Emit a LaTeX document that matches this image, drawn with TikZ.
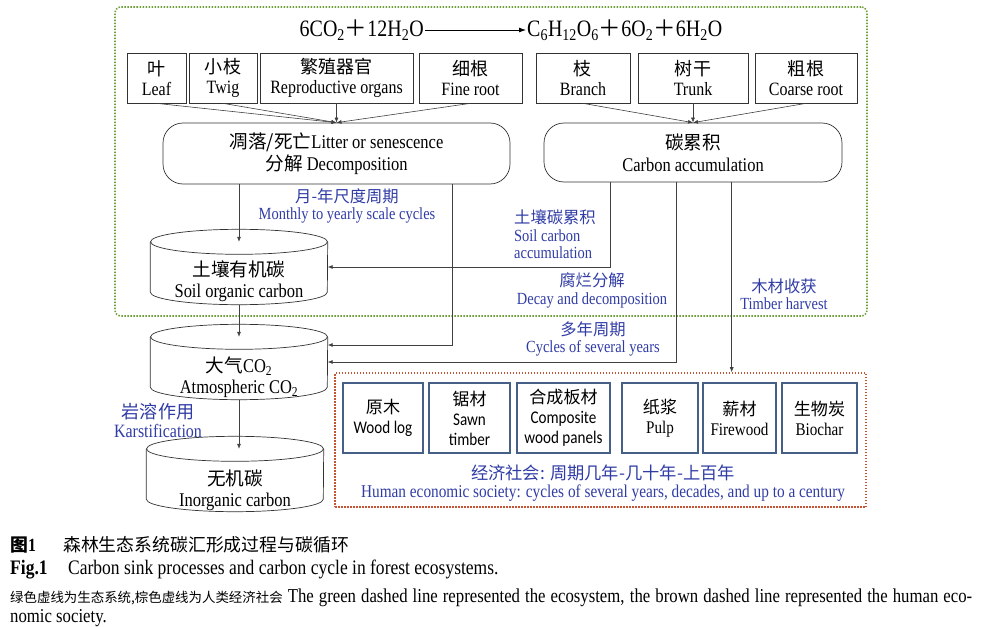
\documentclass[tikz,border=0pt]{standalone}
\usepackage{fontspec}
\setmainfont[FakeStretch=0.85]{Liberation Serif}
\newfontfamily\cjk[Scale=0.96]{Noto Sans CJK SC}
\newfontfamily\calib[FakeStretch=0.85]{Carlito}
\newcommand{\zh}[1]{{\cjk #1}}
\usepackage{xcolor}
\usetikzlibrary{arrows.meta,positioning}
\definecolor{ecogreen}{RGB}{112,160,60}
\definecolor{socbrown}{RGB}{196,84,52}
\definecolor{noteblue}{RGB}{48,60,165}
\definecolor{prodframe}{RGB}{70,95,135}

\begin{document}
\begin{tikzpicture}[x=1pt,y=-1pt,
  part/.style={rectangle, draw=black!80, line width=0.7pt, minimum height=50pt, inner sep=1pt, align=center, font=\fontsize{18.8}{20.5}\selectfont},
  stage/.style={rectangle, draw=black!80, line width=0.7pt, rounded corners=20pt, align=center, font=\fontsize{19.4}{22}\selectfont},
  tank/.style={minimum width=177pt, minimum height=50pt, inner sep=0pt},
  tanktext/.style={align=center, inner sep=0pt, font=\fontsize{19.4}{21.5}\selectfont},
  product/.style={rectangle, draw=prodframe, line width=1.1pt, minimum height=70pt, inner sep=1pt, align=center, font=\fontsize{17.8}{20}\selectfont},
  sansproduct/.style={product, font=\calib\fontsize{17.8}{20}\selectfont},
  note/.style={text=noteblue, align=center, inner sep=0pt, font=\fontsize{17}{17.5}\selectfont},
  zone/.style={line width=1.6pt, dash pattern=on 1.5pt off 1.5pt},
  flow/.style={-{Latex[length=5pt,width=4pt]}, draw=black!75, line width=0.6pt},
  caption/.style={anchor=west, inner sep=0pt}
]
\useasboundingbox (0,0) rectangle (984,626);

% ecosystem / society frames
\node[zone, draw=ecogreen, rounded corners=6pt, minimum width=752pt, minimum height=309pt] (eco) at (491,161.5) {};
\node[zone, draw=socbrown, minimum width=531pt, minimum height=134pt] (society) at (600.5,440) {};

% photosynthesis
\node[anchor=east, inner sep=1pt, font=\fontsize{23.5}{24}\selectfont] (lhs) at (425,30) {6CO\textsubscript{2}\zh{＋}12H\textsubscript{2}O};
\node[anchor=west, inner sep=1pt, font=\fontsize{23.5}{24}\selectfont] (rhs) at (526,30) {C\textsubscript{6}H\textsubscript{12}O\textsubscript{6}\zh{＋}6O\textsubscript{2}\zh{＋}6H\textsubscript{2}O};
\draw[-{Latex[length=7pt,width=5pt]}, line width=0.8pt] (lhs) -- (rhs);

% organs
\node[part, minimum width=59pt] (leaf) at (156.5,78) {\zh{叶}\\Leaf};
\node[part, minimum width=68pt] (twig) at (223,78) {\zh{小枝}\\Twig};
\node[part, minimum width=153pt] (organ) at (336.5,78) {\zh{繁殖器官}\\Reproductive organs};
\node[part, minimum width=103pt] (fine) at (470.5,78) {\zh{细根}\\Fine root};
\node[part, minimum width=94pt] (branch) at (583,78) {\zh{枝}\\Branch};
\node[part, minimum width=110pt] (trunk) at (693,78) {\zh{树干}\\Trunk};
\node[part, minimum width=102pt] (coarse) at (806,78) {\zh{粗根}\\Coarse root};

\node[stage, minimum width=347pt, minimum height=61pt] (litter) at (336.5,153.5) {\zh{凋落/死亡}Litter or senescence\\\zh{分解} Decomposition};
\node[stage, minimum width=298pt, minimum height=59pt] (accum) at (693,152.5) {\zh{碳累积}\\Carbon accumulation};

\foreach \p in {leaf,twig,organ,fine} \draw[flow] (\p.south) -- (litter.north);
\foreach \p in {branch,trunk,coarse} \draw[flow] (\p.south) -- (accum.north);

% carbon pools
\node[tank] (soil) at (239,267) {};
\node[tank] (atmos) at (239,362) {};
\node[tank] (inorg) at (235,474) {};
\foreach \tk in {soil,atmos,inorg} {
  \draw[black!80, line width=0.7pt] (\tk.north west) -- (\tk.south west) arc[start angle=180, end angle=360, x radius=88.5pt, y radius=12.5pt] -- (\tk.north east);
  \draw[black!80, line width=0.7pt] (\tk.north) ellipse[x radius=88.5pt, y radius=12.5pt];
}
\node[tanktext] (soiltxt) at (239,281) {\zh{土壤有机碳}\\Soil organic carbon};
\node[tanktext] (atmostxt) at (239,377) {\zh{大气}CO\textsubscript{2}\\Atmospheric CO\textsubscript{2}};
\node[tanktext] (inorgtxt) at (235,490.5) {\zh{无机碳}\\Inorganic carbon};

\draw[flow] (litter.south -| soil.north) -- (soil.north);
\draw[flow] ([yshift=-12.5pt]soil.south) -- (atmos.north);
\draw[flow] ([yshift=-12.5pt]atmos.south) -- (atmos.south |- inorg.north);
\draw[flow] ([xshift=116pt]litter.south) |- ([yshift=17pt]atmos.east);
\draw[flow] ([xshift=-82.3pt]accum.south) |- (soil.east);
\draw[flow] ([xshift=-16.3pt]accum.south) |- (atmos.east);
\draw[flow] ([xshift=38.7pt]accum.south) -- ([xshift=38.7pt]accum.south |- society.north);

% wood products
\node[sansproduct, minimum width=80pt] (log) at (383,418) {\zh{原木}\\Wood log};
\node[sansproduct, minimum width=81pt] (sawn) at (469.5,418) {\zh{锯材}\\Sawn\\timber};
\node[sansproduct, minimum width=93pt] (panel) at (563.5,418) {\zh{合成板材}\\Composite\\wood panels};
\node[product, minimum width=76pt] (pulp) at (660,418) {\zh{纸浆}\\Pulp};
\node[product, minimum width=73pt] (fuel) at (739.5,418) {\zh{薪材}\\Firewood};
\node[product, minimum width=75pt] (char) at (819.5,418) {\zh{生物炭}\\Biochar};

% labels
\node[note] (cycle1) at (347,206) {\zh{月-年尺度周期}\\Monthly to yearly scale cycles};
\node[note, anchor=west, align=left] (soilacc) at (514,234.3) {\zh{土壤碳累积}\\Soil carbon\\accumulation};
\node[note] (decay) at (592,290.5) {\zh{腐烂分解}\\Decay and decomposition};
\node[note] (harvest) at (784,294) {\zh{木材收获}\\Timber harvest};
\node[note] (cycle2) at (593,339) {\zh{多年周期}\\Cycles of several years};
\node[note, font=\fontsize{18.8}{19.5}\selectfont] (karst) at (158,420.5) {\zh{岩溶作用}\\Karstification};
\node[note, font=\fontsize{18}{18.5}\selectfont] (econ) at (603,483) {\zh{经济社会: 周期几年-几十年-上百年}\\Human economic society: cycles of several years, decades, and up to a century};

% caption
\node[caption, font=\fontsize{18.6}{20}\selectfont] (cap1) at (10,545) {\makebox[53pt][l]{\bfseries\zh{图}1}\zh{森林生态系统碳汇形成过程与碳循环}};
\node[caption, font=\fontsize{20.6}{20}\selectfont] (cap2) at (10,570) {\makebox[58pt][l]{\bfseries Fig.1}Carbon sink processes and carbon cycle in forest ecosystems.};
\node[caption, font=\fontsize{19.7}{20}\selectfont] (cap3) at (10,598) {\makebox[962pt][s]{{\fontsize{14}{15}\selectfont\zh{绿色虚线为生态系统,棕色虚线为人类经济社会}} The green dashed line represented the ecosystem, the brown dashed line represented the human eco-}};
\node[caption, font=\fontsize{19.7}{20}\selectfont] (cap4) at (10,618) {nomic society.};
\end{tikzpicture}
\end{document}
